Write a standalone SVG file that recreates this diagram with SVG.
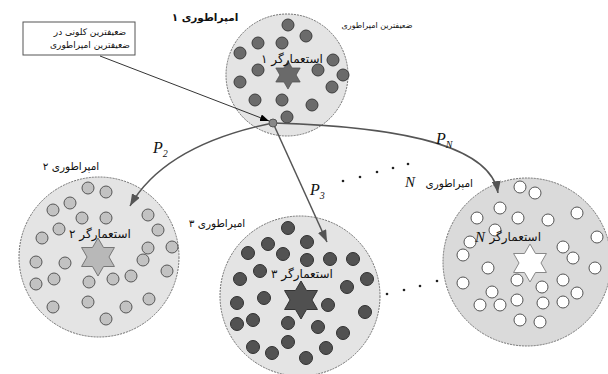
<svg xmlns="http://www.w3.org/2000/svg" width="608" height="374" viewBox="0 0 608 374">
<style>
.emp{stroke:#707070;stroke-width:1;stroke-dasharray:2 1}
.d1{fill:#6b6b6b;stroke:#3c3c3c;stroke-width:1}
.d2{fill:#c2c2c2;stroke:#555;stroke-width:1}
.d3{fill:#525252;stroke:#303030;stroke-width:1}
.dN{fill:#fff;stroke:#555;stroke-width:1}
.fa{font-family:"DejaVu Sans",sans-serif;fill:#111}
.col{font-size:12px}
.lab{font-size:10.5px}
.pi{font-family:"Liberation Serif",serif;font-style:italic;fill:#111}
.con{fill:none;stroke:#555;stroke-width:1.5}
.ell{fill:#222}
</style>
<defs>
<marker id="ah" viewBox="0 0 12 9" refX="12" refY="4.5" markerWidth="12" markerHeight="9" markerUnits="userSpaceOnUse" orient="auto"><path d="M0,0 L12,4.5 L0,9 z" fill="#555"/></marker>
<marker id="ahb" viewBox="0 0 9 7" refX="9" refY="3.5" markerWidth="9" markerHeight="7" markerUnits="userSpaceOnUse" orient="auto"><path d="M0,0 L9,3.5 L0,7 z" fill="#000"/></marker>
<polygon id="star" points="0,-19 5.49,-9.5 16.45,-9.5 10.97,0 16.45,9.5 5.49,9.5 0,19 -5.49,9.5 -16.45,9.5 -10.97,0 -16.45,-9.5 -5.49,-9.5"/>
</defs>

<g id="note">
<rect x="23" y="22" width="112" height="33" fill="#fff" stroke="#555" stroke-width="1"/>
<text class="fa" x="90" y="35" font-size="9" text-anchor="middle">ضعیفترین کلونی در</text>
<text class="fa" x="90" y="48" font-size="9" text-anchor="middle">ضعیفترین امپراطوری</text>
</g>

<g id="empire1">
<circle class="emp" cx="287" cy="75" r="61" fill="#e4e4e4"/>
<g class="d1">
<circle cx="288" cy="25" r="6"/><circle cx="306" cy="36" r="6"/><circle cx="258" cy="43" r="6"/><circle cx="282" cy="43" r="6"/><circle cx="240" cy="53" r="6"/><circle cx="333" cy="60" r="6"/><circle cx="258" cy="70" r="6"/><circle cx="318" cy="70" r="6"/><circle cx="343" cy="75" r="6"/><circle cx="240" cy="82" r="6"/><circle cx="332" cy="87" r="6"/><circle cx="255" cy="100" r="6"/><circle cx="282" cy="100" r="6"/><circle cx="312" cy="105" r="6"/><circle cx="287" cy="117" r="6"/>
</g>
<use href="#star" transform="translate(288,75) scale(0.74)" fill="#6a6a6a" stroke="#505050"/>
<text class="fa col" x="292" y="63" text-anchor="middle">استعمارگر ۱</text>
<text class="fa" x="205" y="21" font-size="10.5" font-weight="bold" text-anchor="middle">امپراطوری ۱</text>
<text class="fa" x="377" y="28" font-size="8" text-anchor="middle">ضعیفترین امپراطوری</text>
</g>

<g id="empire2">
<circle class="emp" cx="99" cy="257" r="80" fill="#e4e4e4"/>
<g class="d2">
<circle cx="88" cy="188" r="6"/><circle cx="106" cy="192" r="6"/><circle cx="70" cy="203" r="6"/><circle cx="53" cy="210" r="6"/><circle cx="82" cy="218" r="6"/><circle cx="106" cy="218" r="6"/><circle cx="148" cy="215" r="6"/><circle cx="59" cy="229" r="6"/><circle cx="158" cy="230" r="6"/><circle cx="42" cy="238" r="6"/><circle cx="172" cy="247" r="6"/><circle cx="148" cy="248" r="6"/><circle cx="143" cy="260" r="6"/><circle cx="36" cy="262" r="6"/><circle cx="65" cy="263" r="6"/><circle cx="167" cy="271" r="6"/><circle cx="131" cy="276" r="6"/><circle cx="54" cy="279" r="6"/><circle cx="36" cy="284" r="6"/><circle cx="89" cy="282" r="6"/><circle cx="113" cy="279" r="6"/><circle cx="53" cy="307" r="6"/><circle cx="88" cy="302" r="6"/><circle cx="126" cy="307" r="6"/><circle cx="149" cy="299" r="6"/><circle cx="106" cy="319" r="6"/>
</g>
<use href="#star" transform="translate(98,257)" fill="#b8b8b8" stroke="#777"/>
<text class="fa col" x="100" y="238" text-anchor="middle">استعمارگر ۲</text>
<text class="fa lab" x="71" y="170" text-anchor="middle">امپراطوری ۲</text>
</g>

<g id="empire3">
<circle class="emp" cx="300" cy="296" r="80" fill="#e4e4e4"/>
<g class="d3">
<circle cx="288" cy="228" r="6.5"/><circle cx="307" cy="242" r="6.5"/><circle cx="268" cy="244" r="6.5"/><circle cx="248" cy="253" r="6.5"/><circle cx="283" cy="254" r="6.5"/><circle cx="307" cy="260" r="6.5"/><circle cx="330" cy="259" r="6.5"/><circle cx="353" cy="259" r="6.5"/><circle cx="260" cy="271" r="6.5"/><circle cx="240" cy="279" r="6.5"/><circle cx="367" cy="279" r="6.5"/><circle cx="347" cy="287" r="6.5"/><circle cx="264" cy="298" r="6.5"/><circle cx="237" cy="303" r="6.5"/><circle cx="328" cy="305" r="6.5"/><circle cx="365" cy="312" r="6.5"/><circle cx="253" cy="320" r="6.5"/><circle cx="237" cy="324" r="6.5"/><circle cx="288" cy="323" r="6.5"/><circle cx="318" cy="327" r="6.5"/><circle cx="343" cy="333" r="6.5"/><circle cx="288" cy="342" r="6.5"/><circle cx="253" cy="347" r="6.5"/><circle cx="326" cy="348" r="6.5"/><circle cx="272" cy="353" r="6.5"/><circle cx="306" cy="358" r="6.5"/>
</g>
<use href="#star" transform="translate(301,300)" fill="#505050" stroke="#333"/>
<text class="fa col" x="302" y="278" text-anchor="middle">استعمارگر ۳</text>
<text class="fa lab" x="217" y="227" text-anchor="middle">امپراطوری ۳</text>
</g>

<g id="empireN">
<circle class="emp" cx="527" cy="262" r="84" fill="#dadada"/>
<g class="dN">
<circle cx="520" cy="187" r="6"/><circle cx="535" cy="193" r="6"/><circle cx="500" cy="208" r="6"/><circle cx="477" cy="218" r="6"/><circle cx="518" cy="218" r="6"/><circle cx="548" cy="220" r="6"/><circle cx="577" cy="213" r="6"/><circle cx="495" cy="230" r="6"/><circle cx="597" cy="237" r="6"/><circle cx="470" cy="242" r="6"/><circle cx="563" cy="247" r="6"/><circle cx="573" cy="258" r="6"/><circle cx="463" cy="255" r="6"/><circle cx="488" cy="268" r="6"/><circle cx="595" cy="268" r="6"/><circle cx="517" cy="280" r="6"/><circle cx="563" cy="280" r="6"/><circle cx="463" cy="283" r="6"/><circle cx="492" cy="292" r="6"/><circle cx="542" cy="287" r="6"/><circle cx="517" cy="300" r="6"/><circle cx="577" cy="293" r="6"/><circle cx="480" cy="305" r="6"/><circle cx="500" cy="305" r="6"/><circle cx="543" cy="303" r="6"/><circle cx="563" cy="302" r="6"/><circle cx="520" cy="320" r="6"/><circle cx="540" cy="322" r="6"/>
</g>
<use href="#star" transform="translate(530,263)" fill="#fff" stroke="#888"/>
<text class="fa col" x="541" y="241" text-anchor="end">استعمارگر</text>
<text class="pi" x="475" y="242" font-size="15">N</text>
<text class="fa lab" x="473" y="187" text-anchor="end">امپراطوری</text>
<text class="pi" x="405" y="187" font-size="15">N</text>
</g>

<g id="connectors">
<line x1="100" y1="56" x2="269" y2="121" stroke="#000" stroke-width="0.8" marker-end="url(#ahb)"/>
<path class="con" d="M273,123 Q165,145 130,206" marker-end="url(#ah)"/>
<line class="con" x1="273" y1="123" x2="327" y2="242" marker-end="url(#ah)"/>
<path class="con" d="M273,123 C380,126 490,140 498,193" marker-end="url(#ah)"/>
<circle cx="273" cy="123" r="4" fill="#888" stroke="#555" stroke-width="1"/>
<text class="pi" x="153" y="153" font-size="16">P<tspan font-size="10" dy="4">2</tspan></text>
<text class="pi" x="310" y="195" font-size="16">P<tspan font-size="10" dy="4">3</tspan></text>
<text class="pi" x="436" y="144" font-size="16">P<tspan font-size="10" dy="4">N</tspan></text>
<g class="ell">
<circle cx="343" cy="181" r="1.3"/><circle cx="360" cy="177" r="1.3"/><circle cx="377" cy="172" r="1.3"/><circle cx="393" cy="168" r="1.3"/><circle cx="408" cy="164" r="1.3"/>
<circle cx="387" cy="294" r="1.3"/><circle cx="404" cy="290" r="1.3"/><circle cx="420" cy="286" r="1.3"/><circle cx="437" cy="281" r="1.3"/>
</g>
</g>
</svg>
